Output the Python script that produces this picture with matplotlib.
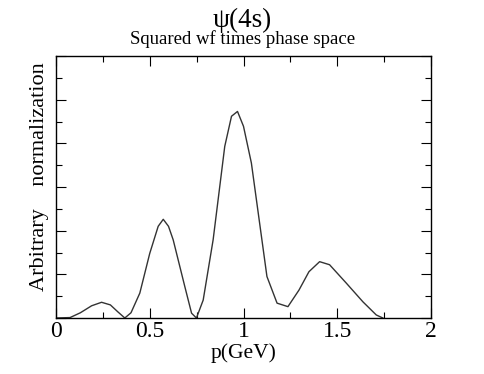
import matplotlib
matplotlib.use("Agg")
import matplotlib.pyplot as plt
from matplotlib.ticker import MultipleLocator

p = [0.0, 0.075, 0.13, 0.19, 0.243, 0.29, 0.33, 0.367, 0.40, 0.447, 0.50, 0.545, 0.572, 0.60, 0.625,
     0.687, 0.723, 0.749, 0.785, 0.838, 0.90, 0.936, 0.968, 1.0, 1.042, 1.125, 1.179, 1.237,
     1.296, 1.349, 1.406, 1.459, 1.548, 1.637, 1.708, 1.743]
psi = [0.0, 0.01, 0.12, 0.28, 0.36, 0.30, 0.14, 0.0, 0.12, 0.57, 1.48, 2.10, 2.26, 2.10, 1.79,
       0.72, 0.11, 0.0, 0.41, 1.79, 3.93, 4.62, 4.73, 4.39, 3.55, 0.95, 0.34, 0.26,
       0.64, 1.06, 1.29, 1.22, 0.80, 0.37, 0.07, 0.0]

x_ticks = [0, 0.5, 1, 1.5, 2]
x_tick_labels = ["0", "0.5", "1", "1.5", "2"]

plt.rcParams['font.family'] = ['Liberation Serif', 'DejaVu Serif']

fig = plt.figure(figsize=(4.85, 3.74), dpi=100)
ax = fig.add_axes([56/485, 1-318/374, (431-56)/485, (318-56)/374])
ax.plot(p, psi, color='#333333', lw=1.0)
ax.set_xlim(0, 2)
ax.set_ylim(0, 6)
ax.set_xticks(x_ticks)
ax.set_xticklabels(x_tick_labels)
ax.xaxis.set_minor_locator(MultipleLocator(0.25))
ax.yaxis.set_major_locator(MultipleLocator(1))
ax.yaxis.set_minor_locator(MultipleLocator(0.5))
ax.tick_params(which='both', direction='in', top=True, right=True, labelsize=17, width=0.8)
ax.tick_params(which='major', length=7, pad=2)
ax.tick_params(which='minor', length=4)
ax.tick_params(axis='y', labelleft=False)
for s in ax.spines.values():
    s.set_linewidth(1.0)
ax.set_xlabel("p(GeV)", fontsize=15.5, labelpad=1)
ax.set_ylabel("Arbitrary    normalization", fontsize=16)
ax.yaxis.set_label_coords(-0.018, 0.538)
fig.text(0.5, 1-20/374, "ψ(4s)", ha='center', va='center', fontsize=19.5)
fig.text(0.5, 1-39/374, "Squared wf times phase space", ha='center', va='center', fontsize=13.5)
fig.savefig("out.png", dpi=100)
